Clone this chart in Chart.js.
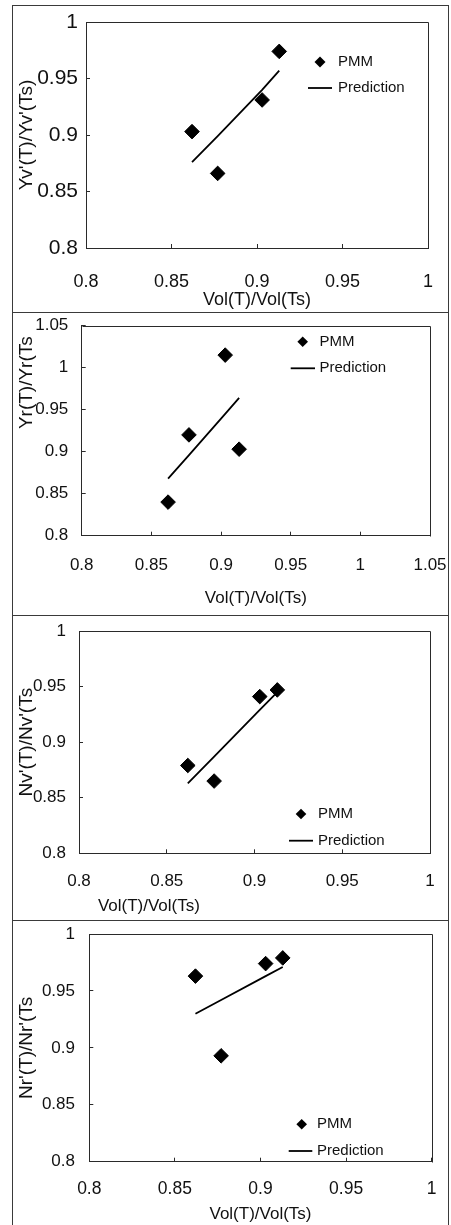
<!DOCTYPE html>
<html><head><meta charset="utf-8">
<script src="https://cdn.jsdelivr.net/npm/chart.js@4/dist/chart.umd.min.js"></script>
<style>
html,body{margin:0;padding:0;background:#fff;}
#wrap{position:relative;width:451px;height:1225px;overflow:hidden;background:#fff;}
.panel{position:absolute;left:0;width:451px;}
.panel canvas{display:block;}
.ln{position:absolute;background:#3a3a3a;}
</style></head><body>
<div id="wrap">
  <div class="panel" style="top:0;height:312px"><canvas id="c1" width="451" height="312"></canvas></div>
  <div class="panel" style="top:312px;height:303px"><canvas id="c2" width="451" height="303"></canvas></div>
  <div class="panel" style="top:615px;height:305px"><canvas id="c3" width="451" height="305"></canvas></div>
  <div class="panel" style="top:920px;height:305px"><canvas id="c4" width="451" height="305"></canvas></div>
  <div class="ln" style="left:12px;top:5px;width:1px;height:1220px"></div>
  <div class="ln" style="left:448px;top:5px;width:1px;height:1220px"></div>
  <div class="ln" style="left:12px;top:5px;width:437px;height:1px"></div>
  <div class="ln" style="left:12px;top:312px;width:437px;height:1px"></div>
  <div class="ln" style="left:12px;top:615px;width:437px;height:1px"></div>
  <div class="ln" style="left:12px;top:920px;width:437px;height:1px"></div>
</div>
<script>
// ---- data ----
const volRatio = [0.862, 0.877, 0.903, 0.913];
const yvPMM  = [0.903, 0.866, 0.931, 0.974];
const yvPred = [0.876, 0.899, 0.940, 0.957];
const yrPMM  = [0.840, 0.920, 1.015, 0.903];
const yrPred = [0.868, 0.896, 0.945, 0.964];
const nvPMM  = [0.879, 0.865, 0.941, 0.947];
const nvPred = [0.863, 0.887, 0.929, 0.945];
const nrPMM  = [0.963, 0.893, 0.974, 0.979];
const nrPred = [0.930, 0.942, 0.963, 0.971];
const ticksTo100 = ['0.8', '0.85', '0.9', '0.95', '1'];
const ticksTo105 = ['0.8', '0.85', '0.9', '0.95', '1', '1.05'];
const seriesNames = ['PMM', 'Prediction'];
const xTitle = 'Vol(T)/Vol(Ts)';
const yTitles = ["Yv'(T)/Yv'(Ts)", "Yr(T)/Yr(Ts", "Nv'(T)/Nv'(Ts", "Nr'(T)/Nr'(Ts"];

const FAM = "'Liberation Sans', Arial, Helvetica, sans-serif";
const INK = '#111';
const LINE = '#2a2a2a';

const framePlugin = {
  id: 'frameTopRight',
  afterDraw(chart) {
    const {ctx, chartArea: a} = chart;
    ctx.save();
    ctx.strokeStyle = LINE; ctx.lineWidth = 1;
    ctx.beginPath();
    ctx.moveTo(Math.round(a.left) + 0.5, Math.round(a.top) + 0.5);
    ctx.lineTo(Math.round(a.right) + 0.5, Math.round(a.top) + 0.5);
    ctx.lineTo(Math.round(a.right) + 0.5, Math.round(a.bottom) + 0.5);
    ctx.stroke();
    ctx.restore();
  }
};

const legendPlugin = {
  id: 'panelLegend',
  afterDraw(chart, args, o) {
    const ctx = chart.ctx;
    const names = chart.data.datasets.map(d => d.label);
    ctx.save();
    ctx.fillStyle = '#000';
    ctx.beginPath();
    ctx.moveTo(o.dx, o.dy - o.r);
    ctx.lineTo(o.dx + o.r, o.dy);
    ctx.lineTo(o.dx, o.dy + o.r);
    ctx.lineTo(o.dx - o.r, o.dy);
    ctx.closePath();
    ctx.fill();
    ctx.strokeStyle = '#000'; ctx.lineWidth = 1.8;
    ctx.beginPath();
    ctx.moveTo(o.lx1, o.ly); ctx.lineTo(o.lx2, o.ly);
    ctx.stroke();
    ctx.fillStyle = INK;
    ctx.font = o.size + 'px ' + FAM;
    ctx.textBaseline = 'middle';
    ctx.textAlign = 'left';
    ctx.fillText(names[0], o.tx, o.dy);
    ctx.fillText(names[1], o.tx, o.ly);
    ctx.restore();
  }
};

function tickScale(labels) {
  return {
    min: +labels[0],
    max: +labels[labels.length - 1],
    afterBuildTicks: s => { s.ticks = labels.map(t => ({value: +t})); },
    cb: (v, i) => labels[i]
  };
}

function zeroPad(s) {
  s.paddingLeft = 0; s.paddingRight = 0; s.paddingTop = 0; s.paddingBottom = 0;
}

function makePanel(id, c) {
  const xs = tickScale(c.xTicks), ys = tickScale(c.yTicks);
  return new Chart(document.getElementById(id), {
    type: 'scatter',
    data: {
      datasets: [
        {
          label: seriesNames[0],
          data: volRatio.map((x, i) => ({x: x, y: c.pmm[i]})),
          pointStyle: 'rectRot', pointRadius: 7.3, pointBorderWidth: 1,
          pointBackgroundColor: '#000', pointBorderColor: '#000',
          showLine: false, order: 2
        },
        {
          label: seriesNames[1],
          data: volRatio.map((x, i) => ({x: x, y: c.pred[i]})),
          showLine: true, pointRadius: 0, borderColor: '#000', borderWidth: 1.8,
          fill: false, order: 1
        }
      ]
    },
    options: {
      responsive: false, animation: false, devicePixelRatio: 1,
      layout: {padding: {left: c.padL, top: c.T, right: 451 - c.R, bottom: c.H - c.xBottom}},
      plugins: {
        legend: {display: false}, tooltip: {enabled: false},
        panelLegend: c.legend
      },
      scales: {
        x: {
          type: 'linear', min: xs.min, max: xs.max,
          afterBuildTicks: xs.afterBuildTicks,
          afterFit: s => { s.height = c.xBottom - c.B; zeroPad(s); },
          grid: {drawOnChartArea: false, drawTicks: true, tickLength: -4, color: LINE},
          border: {display: true, color: LINE, width: 1},
          ticks: {padding: c.xTickPad, color: INK, font: {family: FAM, size: c.xTickFont},
                  callback: xs.cb, maxRotation: 0, autoSkip: false},
          title: {display: true, text: c.xTitleText, align: c.xAlign, color: INK,
                  padding: 0, font: {family: FAM, size: c.xTitleFont}}
        },
        y: {
          type: 'linear', min: ys.min, max: ys.max,
          afterBuildTicks: ys.afterBuildTicks,
          afterFit: s => { s.width = c.L - c.padL; zeroPad(s); },
          grid: {drawOnChartArea: false, drawTicks: true, tickLength: -4, color: LINE},
          border: {display: true, color: LINE, width: 1},
          ticks: {padding: c.yTickPad, color: INK, font: {family: FAM, size: c.yTickFont},
                  callback: ys.cb, autoSkip: false},
          title: {display: true, text: c.yTitleText, align: c.yAlign, color: INK,
                  padding: 0, font: {family: FAM, size: 19}}
        }
      }
    },
    plugins: [framePlugin, legendPlugin]
  });
}

makePanel('c1', {
  pmm: yvPMM, pred: yvPred, xTicks: ticksTo100, yTicks: ticksTo100,
  H: 312, L: 86, R: 428, T: 22, B: 248, padL: 15.6, xBottom: 310.8,
  xTickPad: 27.2, xTickFont: 18, xTitleFont: 18, yTickFont: 21, yTickPad: 12,
  xTitleText: xTitle, xAlign: 'center', yTitleText: yTitles[0], yAlign: 'center',
  legend: {dx: 320, dy: 62, r: 5.5, lx1: 308, lx2: 332, ly: 88, tx: 338, size: 15}
});
makePanel('c2', {
  pmm: yrPMM, pred: yrPred, xTicks: ticksTo105, yTicks: ticksTo105,
  H: 303, L: 81.7, R: 430, T: 13.7, B: 223.7, padL: 15.6, xBottom: 296.5,
  xTickPad: 23.1, xTickFont: 17, xTitleFont: 17, yTickFont: 17, yTickPad: 17.4,
  xTitleText: xTitle, xAlign: 'center', yTitleText: yTitles[1] + '  ', yAlign: 'end',
  legend: {dx: 302.7, dy: 29.7, r: 5.3, lx1: 290.7, lx2: 315, ly: 56.3, tx: 319.5, size: 15}
});
makePanel('c3', {
  pmm: nvPMM, pred: nvPred, xTicks: ticksTo100, yTicks: ticksTo100,
  H: 305, L: 79, R: 430, T: 16, B: 238.3, padL: 15.3, xBottom: 301.9,
  xTickPad: 22.2, xTickFont: 17, xTitleFont: 17, yTickFont: 17, yTickPad: 17,
  xTitleText: '    ' + xTitle, xAlign: 'start', yTitleText: yTitles[2], yAlign: 'center',
  legend: {dx: 301, dy: 199, r: 5.3, lx1: 289, lx2: 313, ly: 225.7, tx: 318, size: 15}
});
makePanel('c4', {
  pmm: nrPMM, pred: nrPred, xTicks: ticksTo100, yTicks: ticksTo100,
  H: 305, L: 89.3, R: 431.7, T: 14, B: 241.7, padL: 15.3, xBottom: 304.7,
  xTickPad: 21.1, xTickFont: 17.5, xTitleFont: 17, yTickFont: 17, yTickPad: 18.3,
  xTitleText: xTitle, xAlign: 'center', yTitleText: yTitles[3], yAlign: 'center',
  legend: {dx: 301.7, dy: 204.3, r: 5.3, lx1: 288.7, lx2: 312.3, ly: 231, tx: 317, size: 15}
});
</script>
</body></html>
